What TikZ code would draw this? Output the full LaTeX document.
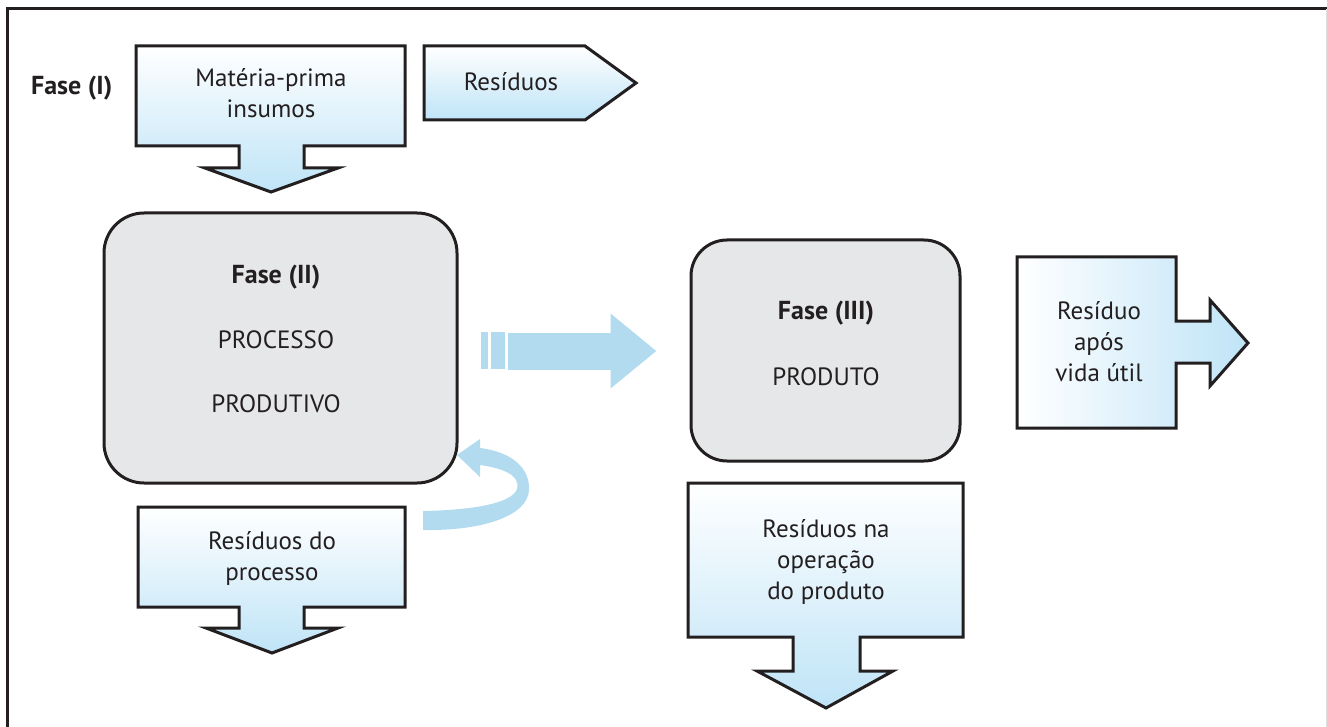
\documentclass[tikz,border=0pt]{standalone}
\usepackage{fontspec}
\setmainfont{PT Sans}
\usetikzlibrary{arrows.meta}

\definecolor{rim}{HTML}{231F20}
\definecolor{skyB}{HTML}{BFE4F7}
\definecolor{flow}{HTML}{B2DBEF}
\definecolor{phase}{HTML}{E6E7E8}

\tikzset{
    rim/.style={draw=rim, line width=1.5pt, line join=miter},
    downfill/.style={rim, top color=white, bottom color=skyB},
    sidefill/.style={rim, left color=white, right color=skyB},
    phasebox/.style={draw=rim, line width=1.5pt, fill=phase, rounded corners=20pt},
    txt/.style={text=rim, font=\fontsize{12.5}{15.5}\selectfont, align=center},
    hd/.style={text=rim, font=\fontsize{13}{15.5}\selectfont\bfseries},
    bigflow/.style={draw=flow, line width=18.5pt, -{Triangle[length=23pt,width=36pt]}}
}

\begin{document}
\begin{tikzpicture}[x=0.5pt,y=-0.5pt]
    \useasboundingbox (0,0) rectangle (1327,727);
    % frame
    \draw[rim] (7,727) -- (7,9) -- (1327,9);
    \draw[black!12, line width=0.5pt] (1326,9) -- (1326,727);

    % phase I
    \node[hd, anchor=west] (f1) at (24,88) {Fase (I)};
    \draw[downfill] (136,46) -- (405,46) -- (405,146) -- (304,146) -- (304,168) -- (338,168)
        -- (271,192) -- (205,168) -- (239,168) -- (239,146) -- (136,146) -- cycle;
    \node[txt] (feed) at (271,93) {Matéria-prima\\insumos};
    \draw[downfill] (424,46) -- (585,46) -- (636,83) -- (585,120) -- (424,120) -- cycle;
    \node[txt] (waste1) at (511,82) {Resíduos};

    % phase II and III
    \node[phasebox, minimum width=176.5pt, minimum height=135pt] (proc) at (280.5,348) {};
    \node[hd] (f2) at (276,277) {Fase (II)};
    \node[txt] (p2a) at (276,340) {PROCESSO};
    \node[txt] (p2b) at (276,404) {PRODUTIVO};
    \node[phasebox, minimum width=134.5pt, minimum height=110.5pt, rounded corners=18pt] (prod) at (825.5,350.5) {};
    \node[hd] (f3) at (826,313) {Fase (III)};
    \node[txt] (p3) at (826,377) {PRODUTO};

    % flow from II to III
    \fill[flow] ([xshift=11pt,yshift=8pt]proc.east) rectangle ++(7,37);
    \fill[flow] ([xshift=16pt,yshift=8pt]proc.east) rectangle ++(14,37);
    \draw[bigflow] ([xshift=24.5pt,yshift=-1.5pt]proc.east) -- ([xshift=-16.5pt,yshift=-0.25pt]prod.west);

    % loop back
    \fill[flow] (423,511) .. controls (475,510) and (512,503) .. (517,489)
        .. controls (521,474) and (500,468) .. (480,465) -- (480,477) -- (457,455)
        -- (480,439) -- (480,448) .. controls (512,452) and (530,468) .. (529,490)
        .. controls (528,515) and (485,531) .. (423,530) -- cycle;

    % residues
    \draw[downfill] (138,507) -- (405,507) -- (405,607) -- (304,607) -- (304,628) -- (338,628)
        -- (272,653) -- (206,628) -- (239,628) -- (239,607) -- (138,607) -- cycle;
    \node[txt] (waste2) at (272,558) {Resíduos do\\processo};
    \draw[downfill] (688,483) -- (963,483) -- (963,637) -- (860,637) -- (860,671) -- (893,671)
        -- (826,708) -- (757,671) -- (793,671) -- (793,637) -- (688,637) -- cycle;
    \node[txt] (waste3) at (826,562) {Resíduos na\\operação\\do produto};
    \draw[sidefill] (1017,257) -- (1176,257) -- (1176,321) -- (1210,321) -- (1210,300) -- (1248,343)
        -- (1210,386) -- (1210,363) -- (1176,363) -- (1176,428) -- (1017,428) -- cycle;
    \node[txt] (waste4) at (1099,342) {Resíduo\\após\\vida útil};
\end{tikzpicture}
\end{document}
